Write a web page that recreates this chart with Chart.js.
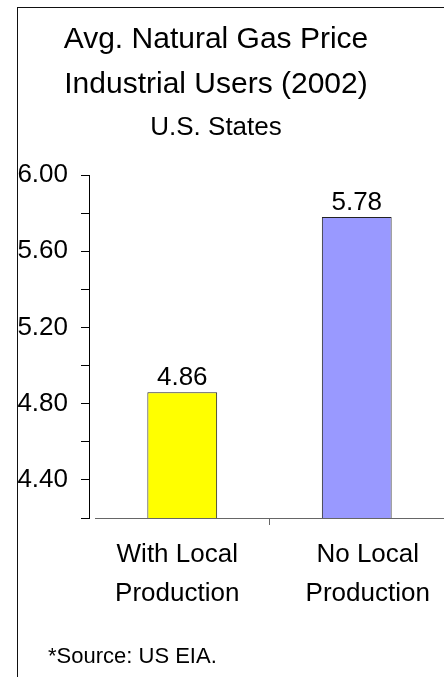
<!DOCTYPE html>
<html>
<head>
<meta charset="utf-8">
<script src="https://cdn.jsdelivr.net/npm/chart.js@4"></script>
<style>
  html, body { margin: 0; padding: 0; background: #fff; overflow: hidden; }
  #wrap { position: relative; width: 444px; height: 677px; }
  #frame { position: absolute; left: 17px; top: 7px; width: 440px; height: 690px;
           border-left: 1px solid #111; border-top: 1px solid #111; box-sizing: border-box; }
  #c { position: absolute; left: 0; top: 0; }
</style>
</head>
<body>
<div id="wrap">
  <div id="frame"></div>
  <canvas id="c" width="444" height="677"></canvas>
</div>
<script>
const titleLines = ['Avg. Natural Gas Price', 'Industrial Users (2002)'];
const subtitleText = 'U.S. States';
const sourceNote = '*Source: US EIA.';
const categories = [['With Local', 'Production'], ['No Local', 'Production']];
const prices = [4.86, 5.78];
const barColors = ['#FFFF00', '#9999FF'];
const yTickLabels = ['6.00', '5.60', '5.20', '4.80', '4.40'];
const yMin = 4.2, yMax = 6.0, yStep = 0.2;

const FONT = "'Liberation Sans', Arial, sans-serif";

const shiftXAxis = {
  id: 'shiftXAxis',
  afterLayout(chart) {
    const a = chart.chartArea;
    const x = chart.scales.x;
    x.left = a.left + 6;
    x.right = chart.width;
    x.width = x.right - x.left;
    x.configure();
    const xl = chart.scales.xLabels;
    xl.left = a.left - 7;
    xl.right = chart.width + 19;
    xl.width = xl.right - xl.left;
    xl.configure();
  }
};

const valueLabels = {
  id: 'valueLabels',
  afterDatasetsDraw(chart) {
    const ctx = chart.ctx;
    const meta = chart.getDatasetMeta(0);
    ctx.save();
    ctx.font = '26px ' + FONT;
    ctx.fillStyle = '#000';
    ctx.textAlign = 'center';
    ctx.textBaseline = 'alphabetic';
    meta.data.forEach((bar, i) => {
      ctx.fillText(prices[i].toFixed(2), bar.x, bar.y - 7);
    });
    ctx.restore();
  }
};

const footerNote = {
  id: 'footerNote',
  afterDraw(chart) {
    const ctx = chart.ctx;
    ctx.save();
    ctx.font = '22px ' + FONT;
    ctx.fillStyle = '#000';
    ctx.textAlign = 'left';
    ctx.textBaseline = 'alphabetic';
    ctx.fillText(sourceNote, 48, chart.height - 14);
    ctx.restore();
  }
};

new Chart(document.getElementById('c'), {
  type: 'bar',
  data: {
    labels: categories,
    datasets: [{
      data: prices,
      backgroundColor: barColors,
      borderColor: '#222',
      borderWidth: 1,
      borderSkipped: false,
      barPercentage: 0.4,
      categoryPercentage: 1.0
    }]
  },
  options: {
    responsive: false,
    animation: false,
    devicePixelRatio: 1,
    layout: { padding: { left: 17, right: 29, top: 0, bottom: 0 } },
    plugins: {
      legend: { display: false },
      tooltip: { enabled: false },
      title: {
        display: true,
        text: titleLines,
        color: '#000',
        font: { family: FONT, size: 30, weight: 'normal', lineHeight: 1.5 },
        padding: { top: 17, bottom: 0 }
      },
      subtitle: {
        display: true,
        text: subtitleText,
        color: '#000',
        font: { family: FONT, size: 26, weight: 'normal', lineHeight: 1.2 },
        padding: { top: 5.4, bottom: 31.4 }
      }
    },
    scales: {
      x: {
        type: 'category',
        position: 'bottom',
        offset: true,
        grid: {
          display: true, drawOnChartArea: false, offset: true, tickLength: 7, lineWidth: 1,
          color: (c) => (c.index === 0 ? 'rgba(0,0,0,0)' : '#666')
        },
        border: { display: true, color: '#666', width: 1 },
        ticks: { display: false },
        afterFit(scale) { scale.height = 7; }
      },
      xLabels: {
        type: 'category',
        position: 'bottom',
        offset: true,
        grid: { display: false, drawTicks: false, tickLength: 0 },
        border: { display: false },
        ticks: {
          color: '#000',
          padding: 10,
          maxRotation: 0,
          autoSkip: false,
          font: { family: FONT, size: 26, lineHeight: 1.5 }
        },
        afterFit(scale) { scale.height = 152; }
      },
      y: {
        min: yMin,
        max: yMax,
        grid: { display: true, drawOnChartArea: false, tickLength: 8, color: '#000', lineWidth: 1 },
        border: { display: true, color: '#000', width: 1 },
        ticks: {
          stepSize: yStep,
          color: '#000',
          padding: 13,
          autoSkip: false,
          font: { family: FONT, size: 26 },
          callback(v) {
            const lbl = yTickLabels.find(t => Math.abs(parseFloat(t) - v) < 1e-6);
            return lbl || '';
          }
        },
        afterFit(scale) { scale.width = 72; }
      }
    }
  },
  plugins: [shiftXAxis, valueLabels, footerNote]
});
</script>
</body>
</html>
